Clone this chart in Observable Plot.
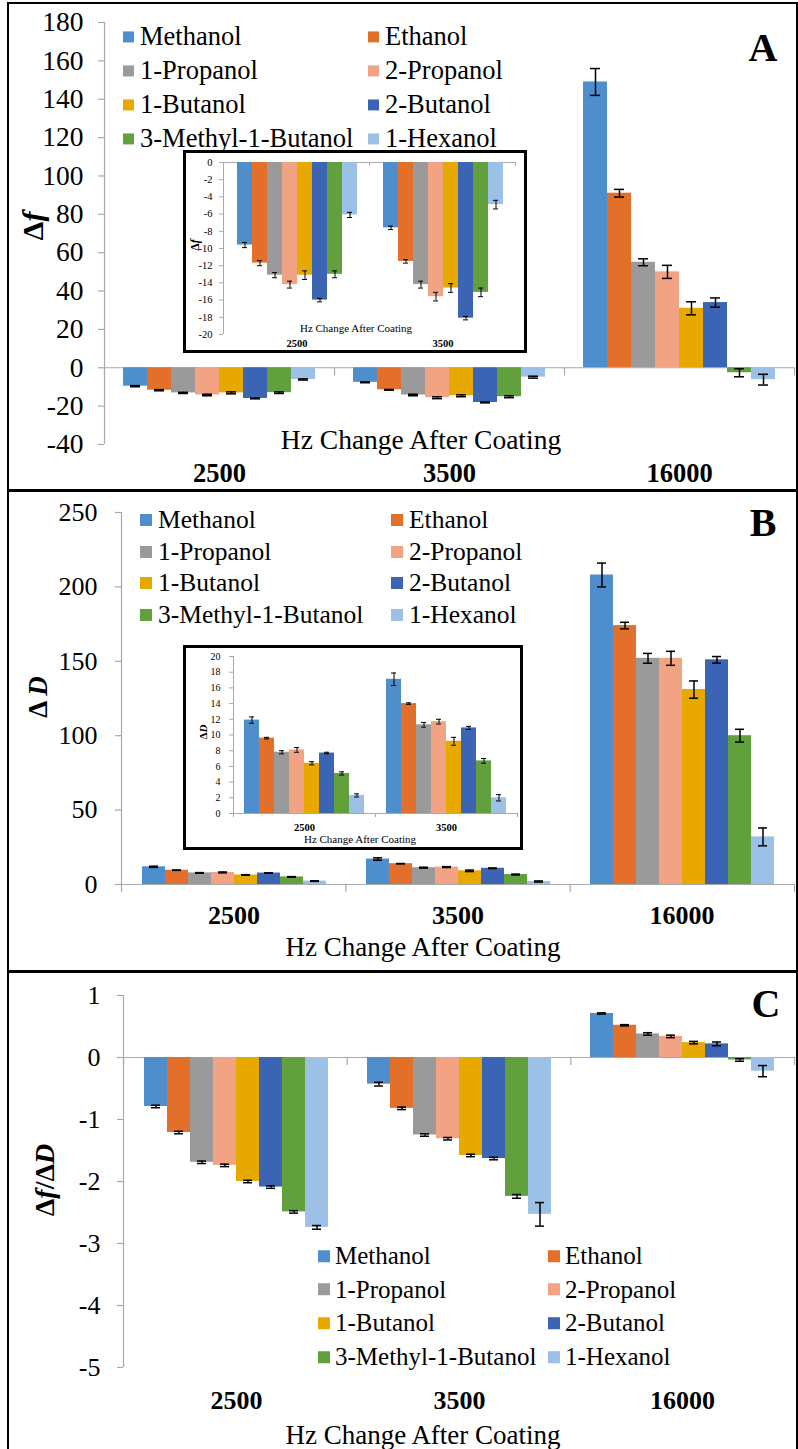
<!DOCTYPE html>
<html><head><meta charset="utf-8">
<script src="https://cdn.jsdelivr.net/npm/d3@7"></script>
<script src="https://cdn.jsdelivr.net/npm/@observablehq/plot@0.6"></script>
<style>
body{margin:0;background:#fff;}
#root{position:relative;width:798px;height:1449px;overflow:hidden;font-family:"Liberation Serif",Tinos,"Times New Roman","DejaVu Serif",serif;color:#000;background:#fff;}
.txt{position:absolute;white-space:nowrap;line-height:1;}
.legend-item{position:absolute;display:flex;align-items:center;white-space:nowrap;line-height:1.1;}
.box{position:absolute;border:3px solid #000;background:#fff;box-sizing:border-box;}
.rule{position:absolute;background:#000;}
svg text{font-family:"Liberation Serif",Tinos,"Times New Roman","DejaVu Serif",serif !important;}
</style></head><body><div id="root"></div>
<script>
// ---------- data ----------
const alcohols = ["Methanol","Ethanol","1-Propanol","2-Propanol","1-Butanol","2-Butanol","3-Methyl-1-Butanol","1-Hexanol"];
const alcoholColors = ["#4f8ecd","#e2702a","#9a9a9a","#f2a384","#e7a800","#3b64b4","#62a03e","#9cc0e6"];
const frequencies = ["2500","3500","16000"];
const insetFrequencies = ["2500","3500"];

// Panel A: Δf
const df2500  = [-9.6,-11.7,-13.1,-14.2,-13.1,-16.0,-13.0,-6.1];
const df3500  = [-7.6,-11.5,-14.2,-15.6,-14.6,-18.1,-15.1,-4.9];
const df16000 = [149,91,55,50,31,34,-2.6,-6.2];
const dfErr2500  = [0.3,0.3,0.3,0.4,0.5,0.2,0.4,0.3];
const dfErr3500  = [0.2,0.2,0.4,0.5,0.5,0.2,0.5,0.5];
const dfErr16000 = [7,2,1.8,3.4,3.4,2.4,2.1,2.8];
const dfTicks = [-40,-20,0,20,40,60,80,100,120,140,160,180];
const dfInsetTicks = [-20,-18,-16,-14,-12,-10,-8,-6,-4,-2,0];

// Panel B: ΔD
const dD2500  = [11.9,9.6,7.8,8.1,6.4,7.7,5.1,2.3];
const dD3500  = [17.1,14.0,11.3,11.7,9.2,10.9,6.7,2.0];
const dD16000 = [208,174,152,152,131,151,100,32];
const dDErr2500  = [0.4,0.1,0.2,0.3,0.2,0.1,0.2,0.2];
const dDErr3500  = [0.8,0.1,0.3,0.3,0.5,0.2,0.3,0.4];
const dDErr16000 = [8,2.2,3.3,4.7,5.8,2.2,4.3,6];
const dDTicks = [0,50,100,150,200,250];
const dDInsetTicks = [0,2,4,6,8,10,12,14,16,18,20];

// Panel C: Δf/ΔD
const ratio2500  = [-0.79,-1.21,-1.69,-1.74,-2.00,-2.09,-2.49,-2.74];
const ratio3500  = [-0.43,-0.82,-1.25,-1.31,-1.58,-1.63,-2.24,-2.53];
const ratio16000 = [0.71,0.52,0.38,0.34,0.24,0.22,-0.04,-0.22];
const ratioErr2500  = [0.02,0.02,0.02,0.02,0.02,0.02,0.02,0.03];
const ratioErr3500  = [0.03,0.02,0.02,0.02,0.02,0.02,0.03,0.19];
const ratioErr16000 = [0.01,0.01,0.02,0.02,0.02,0.03,0.02,0.09];
const ratioTicks = [-5,-4,-3,-2,-1,0,1];

// ---------- helpers ----------
const FONT = '"Liberation Serif",Tinos,"Times New Roman","DejaVu Serif",serif';
const AXIS = "#a9a9a9";
const root = document.getElementById("root");

function buildRows(valueSets, errSets, freqs) {
  const rows = [];
  freqs.forEach((f, i) => alcohols.forEach((a, j) =>
    rows.push({freq: f, alcohol: a, value: valueSets[i][j], err: errSets[i][j]})));
  return rows;
}
function place(el, left, top) {
  el.style.position = "absolute"; el.style.left = left + "px"; el.style.top = top + "px";
  root.appendChild(el);
}
function addDiv(cls, css, html) {
  const d = document.createElement("div"); d.className = cls;
  Object.assign(d.style, css); if (html != null) d.innerHTML = html;
  root.appendChild(d); return d;
}

const GAP = 1.5 / 9.5; // Excel gap width 150%

function barChart(c) {
  const dims = {width: c.width, height: c.height, marginTop: c.mt, marginBottom: c.mb, marginLeft: c.ml, marginRight: c.mr};
  const chrome = Plot.plot({
    ...dims,
    style: {background: "transparent", fontFamily: FONT, fontSize: c.tickFont + "px", color: "#000", overflow: "visible"},
    x: {domain: [0, c.freqs.length], axis: null},
    y: {domain: c.yDomain, axis: "left", ticks: c.yTicks, tickSize: 0, tickPadding: c.tickPad, tickFormat: d => String(d), label: null},
    marks: [
      Plot.ruleX([0], {stroke: AXIS, strokeWidth: c.axisW}),
      Plot.ruleY([0], {stroke: AXIS, strokeWidth: c.axisW}),
      Plot.ruleY(c.yTicks, {x1: 0, x2: 0, insetLeft: -c.yTickLen, stroke: AXIS, strokeWidth: c.axisW}),
      Plot.ruleX(d3.range(c.freqs.length + 1), {y1: 0, y2: 0, insetBottom: -c.catTickLen, stroke: AXIS, strokeWidth: c.axisW})
    ]
  });
  const rows = c.rows;
  const bars = Plot.plot({
    ...dims,
    style: {background: "transparent", fontFamily: FONT, fontSize: c.catFont + "px", fontWeight: "bold", color: "#000", overflow: "visible"},
    facet: {data: rows, x: "freq"},
    fx: {domain: c.freqs, paddingInner: GAP, paddingOuter: GAP / 2, axis: "bottom", tickSize: 0, tickPadding: c.catPad, label: null},
    x: {domain: alcohols, padding: 0, axis: null},
    y: {domain: c.yDomain, axis: null},
    color: {domain: alcohols, range: alcoholColors},
    marks: [
      Plot.barY(rows, {x: "alcohol", y: "value", fill: "alcohol"}),
      Plot.ruleX(rows, {x: "alcohol", y1: d => d.value - d.err, y2: d => d.value + d.err, stroke: "#000", strokeWidth: c.errW}),
      Plot.tickY(rows, {x: "alcohol", y: d => d.value + d.err, insetLeft: c.capInset, insetRight: c.capInset, stroke: "#000", strokeWidth: c.errW}),
      Plot.tickY(rows, {x: "alcohol", y: d => d.value - d.err, insetLeft: c.capInset, insetRight: c.capInset, stroke: "#000", strokeWidth: c.errW})
    ]
  });
  place(chrome, c.left, c.top);
  place(bars, c.left, c.top);
}

function legend(c) {
  alcohols.forEach((a, i) => {
    const col = i % 2, row = Math.floor(i / 2);
    addDiv("legend-item", {
      left: (col ? c.x2 : c.x1) + "px", top: (c.y0 + row * c.dy) + "px",
      transform: "translateY(-50%)", fontSize: c.font + "px"
    }, `<span style="display:inline-block;width:${c.sw}px;height:${c.sw}px;background:${alcoholColors[i]};margin-right:${c.gap}px"></span>${a}`);
  });
}
function label(html, x, y, font, extra) {
  addDiv("txt", Object.assign({left: x + "px", top: y + "px", fontSize: font + "px", transform: "translate(-50%,-50%)"}, extra || {}), html);
}

// ---------- frame ----------
addDiv("box", {left: "7px", top: "2px", width: "791px", height: "1449px", border: "2.5px solid #000", background: "transparent"});
addDiv("rule", {left: "7px", top: "489px", width: "791px", height: "2.5px"});
addDiv("rule", {left: "7px", top: "970px", width: "791px", height: "2.5px"});

// ---------- Panel A ----------
const rowsA = buildRows([df2500, df3500, df16000], [dfErr2500, dfErr3500, dfErr16000], frequencies);
barChart({rows: rowsA, freqs: frequencies, left: 0, top: 0, width: 798, height: 490, mt: 22, mb: 46, ml: 104, mr: 4,
  yDomain: [-40, 180], yTicks: dfTicks, tickFont: 27.5, tickPad: 21, yTickLen: 6, catFont: 26.5, catPad: 19,
  capInset: 7, errW: 1.5, catTickLen: 8, axisW: 1.2});
legend({x1: 123, x2: 368, y0: 37, dy: 34, font: 26.5, sw: 11, gap: 6});
label("Hz Change After Coating", 421, 440, 27.5);
label("A", 763, 48, 40, {fontWeight: "bold"});
label("Δ<i>f</i>", 33, 226, 30, {fontWeight: "bold", transform: "translate(-50%,-50%) rotate(-90deg)"});

// inset A
addDiv("box", {left: "183px", top: "150px", width: "344px", height: "203px"});
const rowsAi = rowsA.filter(d => insetFrequencies.includes(d.freq));
barChart({rows: rowsAi, freqs: insetFrequencies, left: 183, top: 150, width: 344, height: 203, mt: 12, mb: 19, ml: 40, mr: 12,
  yDomain: [-20, 0], yTicks: dfInsetTicks, tickFont: 10.5, tickPad: 11, yTickLen: 4, catFont: 10.5, catPad: 5,
  capInset: 5, errW: 1, catTickLen: 4, axisW: 1});
label("Hz Change After Coating", 356, 328, 11);
label("Δ<i>f</i>", 195, 245, 12, {fontWeight: "bold", transform: "translate(-50%,-50%) rotate(-90deg)"});

// ---------- Panel B ----------
const rowsB = buildRows([dD2500, dD3500, dD16000], [dDErr2500, dDErr3500, dDErr16000], frequencies);
barChart({rows: rowsB, freqs: frequencies, left: 0, top: 490, width: 798, height: 481, mt: 22, mb: 87, ml: 121, mr: 4,
  yDomain: [0, 250], yTicks: dDTicks, tickFont: 26, tickPad: 24, yTickLen: 6, catFont: 26, catPad: 21,
  capInset: 7, errW: 1.5, catTickLen: 8, axisW: 1.2});
legend({x1: 140, x2: 391, y0: 520, dy: 31.5, font: 25.5, sw: 12, gap: 6});
label("Hz Change After Coating", 423, 947, 27);
label("B", 763, 523, 40, {fontWeight: "bold"});
label("Δ <i>D</i>", 38, 697, 27, {fontWeight: "bold", transform: "translate(-50%,-50%) rotate(-90deg)"});

// inset B
addDiv("box", {left: "183px", top: "645px", width: "340px", height: "205px"});
const rowsBi = rowsB.filter(d => insetFrequencies.includes(d.freq));
barChart({rows: rowsBi, freqs: insetFrequencies, left: 183, top: 645, width: 340, height: 205, mt: 11, mb: 37, ml: 50, mr: 6,
  yDomain: [0, 20], yTicks: dDInsetTicks, tickFont: 10, tickPad: 13, yTickLen: 4, catFont: 10.5, catPad: 10,
  capInset: 5, errW: 1, catTickLen: 4, axisW: 1});
label("Hz Change After Coating", 360, 839, 11);
label("Δ<i>D</i>", 203, 732, 11, {fontWeight: "bold", transform: "translate(-50%,-50%) rotate(-90deg)"});

// ---------- Panel C ----------
const rowsC = buildRows([ratio2500, ratio3500, ratio16000], [ratioErr2500, ratioErr3500, ratioErr16000], frequencies);
barChart({rows: rowsC, freqs: frequencies, left: 0, top: 971, width: 798, height: 478, mt: 24, mb: 82, ml: 123, mr: 4,
  yDomain: [-5, 1], yTicks: ratioTicks, tickFont: 26, tickPad: 23, yTickLen: 6, catFont: 26, catPad: 23,
  capInset: 7, errW: 1.5, catTickLen: 8, axisW: 1.2});
legend({x1: 318, x2: 548, y0: 1256, dy: 33.7, font: 25, sw: 12, gap: 5});
label("Hz Change After Coating", 423, 1435, 27);
label("C", 766, 1004, 40, {fontWeight: "bold"});
label("Δ<i>f</i>/Δ<i>D</i>", 45, 1180, 28, {fontWeight: "bold", transform: "translate(-50%,-50%) rotate(-90deg)"});
</script></body></html>
